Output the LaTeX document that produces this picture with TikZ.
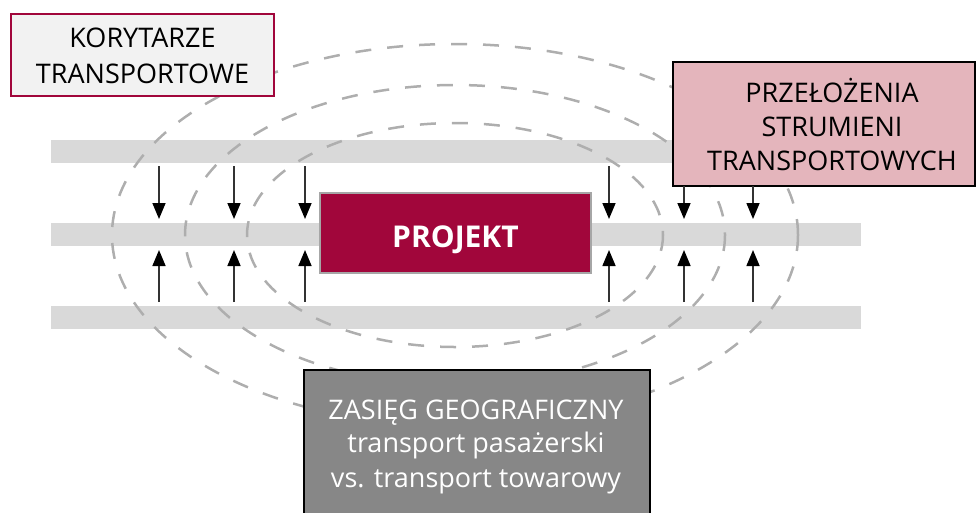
\documentclass[tikz,border=0pt]{standalone}
\usepackage{fontspec}
\setmainfont{Open Sans}
\usetikzlibrary{arrows.meta}
\definecolor{crimson}{HTML}{A1063B}
\definecolor{bandgray}{HTML}{D9D9D9}
\definecolor{dashgray}{HTML}{AEAEAE}
\definecolor{pinkbox}{HTML}{E4B5BC}
\definecolor{geobox}{HTML}{878787}
\definecolor{lightbox}{HTML}{F2F2F2}
\definecolor{arrowgray}{HTML}{333333}
\tikzset{
  band/.style={fill=bandgray},
  zone/.style={draw=dashgray, line width=2.5pt, dash pattern=on 16pt off 16pt},
  flow/.style={draw=arrowgray, line width=1.6pt, -{Triangle[length=16pt,width=13pt,color=black]}},
  panel/.style={line width=2pt, inner sep=0pt},
  line/.style={anchor=base, inner sep=0pt, font=\fontsize{27}{34}\selectfont},
}
\begin{document}
\begin{tikzpicture}[x=1pt,y=-1pt]
\useasboundingbox (0,0) rectangle (976,512);

% three transport corridors
\fill[band] (51,140) rectangle (861,163);
\fill[band] (51,223) rectangle (861,246);
\fill[band] (51,306) rectangle (861,329);

% zones of influence around the project
\draw[zone] (455,235) ellipse [x radius=208, y radius=112];
\draw[zone] (455,235) ellipse [x radius=270, y radius=150];
\draw[zone] (455,235) ellipse [x radius=343, y radius=191];

% corridor box
\node[panel, draw=crimson, fill=lightbox, minimum width=263pt, minimum height=82pt] (korytarze) at (142.5,55) {};
\node[line, text=black] (kor1) at (142.5,47) {KORYTARZE};
\node[line, text=black] (kor2) at (142.5,83) {TRANSPORTOWE};

% flow shift box
\node[panel, draw=black, fill=pinkbox, minimum width=302pt, minimum height=124pt] (przelozenia) at (824,124) {};
\node[line, text=black] (prz1) at (832,102) {PRZEŁOŻENIA};
\node[line, text=black] (prz2) at (832,136) {STRUMIENI};
\node[line, text=black] (prz3) at (832,170) {TRANSPORTOWYCH};

% project
\node[panel, draw=black!35, fill=crimson, minimum width=271pt, minimum height=80pt] (projekt) at (455.5,233) {};
\node[line, text=white, font=\fontsize{30}{34}\selectfont\bfseries] (projektT) at (455.5,247) {PROJEKT};

% geographic range box
\node[panel, draw=black, fill=geobox, minimum width=346pt, minimum height=160pt] (zasieg) at (477,450) {};
\node[line, text=white] (zas1) at (476,419) {ZASIĘG GEOGRAFICZNY};
\node[line, text=white] (zas2) at (476,452) {transport pasażerski};
\node[line, text=white] (zas3) at (476,487) {vs. transport towarowy};

% flow arrows between the corridors
\foreach \i/\x in {1/159, 2/234, 3/305, 4/609} {
  \coordinate (d\i s) at (\x,166);
  \coordinate (d\i e) at (\x,219);
  \draw[flow] (d\i s) -- (d\i e);
}
\foreach \i/\x in {5/684, 6/753} {
  \coordinate (d\i s) at (\x,186);
  \coordinate (d\i e) at (\x,219);
  \draw[flow] (d\i s) -- (d\i e);
}
\foreach \i/\x in {1/159, 2/234, 3/305, 4/609, 5/684, 6/753} {
  \coordinate (u\i s) at (\x,302);
  \coordinate (u\i e) at (\x,250);
  \draw[flow] (u\i s) -- (u\i e);
}
\end{tikzpicture}
\end{document}
